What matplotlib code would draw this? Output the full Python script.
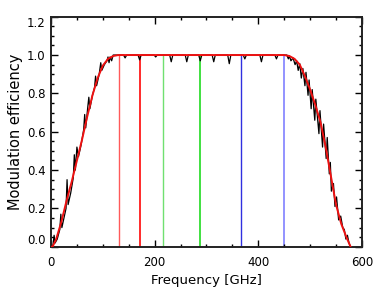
import numpy as np
import matplotlib
matplotlib.use('Agg')
import matplotlib.pyplot as plt
from matplotlib.ticker import MultipleLocator

# Model curve (red)
model_freq = [0, 3, 10, 20, 30, 40, 50, 60, 70, 80, 90, 100, 110, 120, 130,
              450, 460, 470, 480, 490, 500, 510, 520, 530, 540, 550, 560, 570, 578]
model_eff = [0.0, 0.0, 0.04, 0.13, 0.24, 0.34, 0.45, 0.56, 0.68, 0.79, 0.88, 0.945, 0.98, 0.995, 1.0,
             1.0, 0.995, 0.98, 0.95, 0.89, 0.82, 0.74, 0.65, 0.52, 0.37, 0.22, 0.12, 0.05, 0.0]

# Measured curve (black)
meas_freq = [0, 4, 6, 8, 12, 17, 19, 21, 25, 29, 31, 33, 38, 43, 45, 47, 50, 53, 58, 63, 65, 67,
             71, 73, 75, 80, 84, 86, 88, 93, 96, 98, 103, 108, 110, 112, 114, 117, 120,
             140, 143, 146, 168, 171, 174, 199, 202, 205, 229, 232, 235, 259, 262, 265,
             285, 288, 291, 311, 314, 317, 341, 344, 347, 371, 374, 377, 403, 406, 409,
             432, 435, 438, 455, 458, 460, 463, 467, 471, 474, 477, 480, 483, 486, 490, 492,
             496, 498, 502, 504, 509, 511, 517, 519, 524, 526, 531, 533, 537, 539, 541, 545,
             548, 551, 555, 559, 563, 566, 569, 572, 575, 578]
meas_eff = [0.0, 0.01, 0.06, 0.02, 0.04, 0.09, 0.17, 0.10, 0.15, 0.20, 0.35, 0.22, 0.28, 0.36, 0.48,
            0.40, 0.52, 0.47, 0.53, 0.61, 0.69, 0.62, 0.73, 0.78, 0.72, 0.79, 0.83, 0.89, 0.84,
            0.90, 0.96, 0.92, 0.95, 0.97, 0.99, 0.96, 0.99, 0.97, 1.0,
            1.0, 0.985, 1.0, 1.0, 0.975, 1.0, 1.0, 0.99, 1.0, 1.0, 0.965, 1.0, 1.0, 0.965, 1.0,
            1.0, 0.97, 1.0, 1.0, 0.965, 1.0, 1.0, 0.955, 1.0, 1.0, 0.98, 1.0, 1.0, 0.965, 1.0,
            1.0, 0.98, 1.0, 1.0, 0.98, 0.995, 0.97, 0.985, 0.95, 0.97, 0.92, 0.955, 0.88, 0.93,
            0.84, 0.91, 0.79, 0.87, 0.72, 0.82, 0.66, 0.77, 0.59, 0.71, 0.52, 0.64, 0.46, 0.57,
            0.38, 0.44, 0.29, 0.33, 0.21, 0.26, 0.14, 0.16, 0.10, 0.09, 0.04, 0.06, 0.02, 0.0]

# Band edges (vertical markers)
band_freq = [132, 172, 216.5, 288, 366, 450]
band_color = ['#ff5a5a', '#ff2a2a', '#70e070', '#40e040', '#3030e0', '#8080ff']
band_width = [1.0, 1.4, 1.0, 1.4, 1.0, 1.2]

y_ticks = [0.0, 0.2, 0.4, 0.6, 0.8, 1.0, 1.2]

plt.rcParams['font.family'] = 'DejaVu Sans'
plt.rcParams['font.size'] = 8.5

fig = plt.figure(figsize=(3.82, 2.91), dpi=100)
ax = fig.add_axes([0.1335, 0.152, 0.814, 0.7906])

for f, c, w in zip(band_freq, band_color, band_width):
    ax.vlines(f, 0, 1.0, color=c, lw=w, zorder=1)

ax.plot(meas_freq, meas_eff, color='black', lw=0.9, zorder=2)
ax.plot(model_freq, model_eff, color='#ee1111', lw=1.4, zorder=3)

ax.set_xlim(0, 600)
ax.set_ylim(0, 1.2)
ax.xaxis.set_major_locator(MultipleLocator(200))
ax.xaxis.set_minor_locator(MultipleLocator(50))
ax.set_yticks(y_ticks)
ax.set_yticklabels(['%.1f' % v for v in y_ticks])
ax.yaxis.set_minor_locator(MultipleLocator(0.05))

ax.tick_params(which='both', direction='in', top=True, right=True, width=1.0)
ax.tick_params(which='major', length=5)
ax.tick_params(which='minor', length=2.5)
ax.tick_params(axis='x', pad=7)
ax.tick_params(axis='y', pad=4)
for sp in ax.spines.values():
    sp.set_linewidth(1.4)
    sp.set_color('#222222')

# IDL-style: end labels pulled inside the axis range
yt = ax.yaxis.get_major_ticks()
yt[0].label1.set_verticalalignment('bottom')
yt[-1].label1.set_verticalalignment('top')

ax.set_xlabel('Frequency [GHz]', fontsize=9.5, labelpad=3)
ax.set_ylabel('Modulation efficiency', fontsize=10.5, labelpad=3)

plt.savefig('out.png', dpi=100)
